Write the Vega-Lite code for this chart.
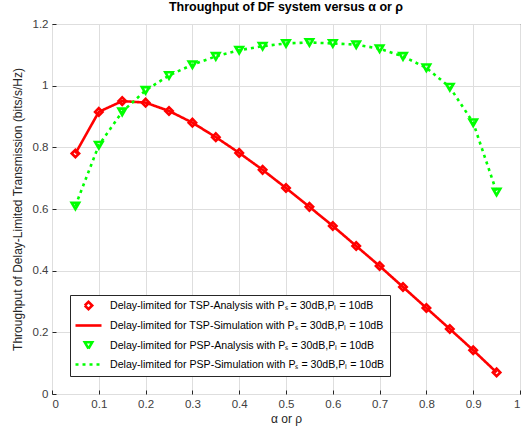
{
  "$schema": "https://vega.github.io/schema/vega-lite/v6.json",
  "autosize": {"type": "none"},
  "padding": {"left": 52, "top": 24, "right": 11, "bottom": 42},
  "width": 468,
  "height": 370,
  "background": "white",
  "config": {
    "font": "Liberation Sans",
    "view": {"stroke": "#262626", "strokeWidth": 1},
    "axis": {"labelFont": "Liberation Sans", "titleFont": "Liberation Sans", "labelFontSize": 11.5, "titleFontSize": 12, "labelColor": "#404040", "titleColor": "#262626", "titleFontWeight": "normal", "gridColor": "#dedede", "domainColor": "#262626", "tickColor": "#262626"}
  },
  "title": {"text": "Throughput of DF system versus α or ρ", "fontSize": 12.5, "fontWeight": "bold", "font": "Liberation Sans", "color": "#000000", "offset": 5},
  "data": {"values": [
    {"x":0.05,"y":0.78,"ana":"TSP-Analysis","sim":"TSP-Simulation"},
    {"x":0.10,"y":0.915,"ana":"TSP-Analysis","sim":"TSP-Simulation"},
    {"x":0.15,"y":0.95,"ana":"TSP-Analysis","sim":"TSP-Simulation"},
    {"x":0.20,"y":0.945,"ana":"TSP-Analysis","sim":"TSP-Simulation"},
    {"x":0.25,"y":0.918,"ana":"TSP-Analysis","sim":"TSP-Simulation"},
    {"x":0.30,"y":0.88,"ana":"TSP-Analysis","sim":"TSP-Simulation"},
    {"x":0.35,"y":0.833,"ana":"TSP-Analysis","sim":"TSP-Simulation"},
    {"x":0.40,"y":0.782,"ana":"TSP-Analysis","sim":"TSP-Simulation"},
    {"x":0.45,"y":0.727,"ana":"TSP-Analysis","sim":"TSP-Simulation"},
    {"x":0.50,"y":0.668,"ana":"TSP-Analysis","sim":"TSP-Simulation"},
    {"x":0.55,"y":0.607,"ana":"TSP-Analysis","sim":"TSP-Simulation"},
    {"x":0.60,"y":0.545,"ana":"TSP-Analysis","sim":"TSP-Simulation"},
    {"x":0.65,"y":0.48,"ana":"TSP-Analysis","sim":"TSP-Simulation"},
    {"x":0.70,"y":0.415,"ana":"TSP-Analysis","sim":"TSP-Simulation"},
    {"x":0.75,"y":0.347,"ana":"TSP-Analysis","sim":"TSP-Simulation"},
    {"x":0.80,"y":0.279,"ana":"TSP-Analysis","sim":"TSP-Simulation"},
    {"x":0.85,"y":0.211,"ana":"TSP-Analysis","sim":"TSP-Simulation"},
    {"x":0.90,"y":0.142,"ana":"TSP-Analysis","sim":"TSP-Simulation"},
    {"x":0.95,"y":0.07,"ana":"TSP-Analysis","sim":"TSP-Simulation"},
    {"x":0.05,"y":0.61,"ana":"PSP-Analysis","sim":"PSP-Simulation"},
    {"x":0.10,"y":0.807,"ana":"PSP-Analysis","sim":"PSP-Simulation"},
    {"x":0.15,"y":0.915,"ana":"PSP-Analysis","sim":"PSP-Simulation"},
    {"x":0.20,"y":0.985,"ana":"PSP-Analysis","sim":"PSP-Simulation"},
    {"x":0.25,"y":1.033,"ana":"PSP-Analysis","sim":"PSP-Simulation"},
    {"x":0.30,"y":1.068,"ana":"PSP-Analysis","sim":"PSP-Simulation"},
    {"x":0.35,"y":1.095,"ana":"PSP-Analysis","sim":"PSP-Simulation"},
    {"x":0.40,"y":1.115,"ana":"PSP-Analysis","sim":"PSP-Simulation"},
    {"x":0.45,"y":1.128,"ana":"PSP-Analysis","sim":"PSP-Simulation"},
    {"x":0.50,"y":1.137,"ana":"PSP-Analysis","sim":"PSP-Simulation"},
    {"x":0.55,"y":1.14,"ana":"PSP-Analysis","sim":"PSP-Simulation"},
    {"x":0.60,"y":1.137,"ana":"PSP-Analysis","sim":"PSP-Simulation"},
    {"x":0.65,"y":1.133,"ana":"PSP-Analysis","sim":"PSP-Simulation"},
    {"x":0.70,"y":1.12,"ana":"PSP-Analysis","sim":"PSP-Simulation"},
    {"x":0.75,"y":1.095,"ana":"PSP-Analysis","sim":"PSP-Simulation"},
    {"x":0.80,"y":1.058,"ana":"PSP-Analysis","sim":"PSP-Simulation"},
    {"x":0.85,"y":0.995,"ana":"PSP-Analysis","sim":"PSP-Simulation"},
    {"x":0.90,"y":0.88,"ana":"PSP-Analysis","sim":"PSP-Simulation"},
    {"x":0.95,"y":0.655,"ana":"PSP-Analysis","sim":"PSP-Simulation"}
  ]},
  "encoding": {
    "x": {"field": "x", "type": "quantitative", "scale": {"domain": [0, 1], "nice": false}, "axis": {"title": "α or ρ", "values": [0,0.1,0.2,0.3,0.4,0.5,0.6,0.7,0.8,0.9,1], "format": "~g", "tickSize": -4, "labelPadding": 8, "titlePadding": 4, "domain": false}},
    "y": {"field": "y", "type": "quantitative", "scale": {"domain": [0, 1.2], "nice": false}, "axis": {"title": "Throughput of Delay-Limited Transmission (bits/s/Hz)", "values": [0,0.2,0.4,0.6,0.8,1,1.2], "format": "~g", "tickSize": -4, "labelPadding": 8, "titlePadding": 8, "domain": false}}
  },
  "layer": [
    {
      "mark": {"type": "line", "strokeWidth": 2.6, "strokeCap": "butt"},
      "encoding": {
        "color": {"field": "sim", "type": "nominal", "scale": {"domain": ["TSP-Analysis","TSP-Simulation","PSP-Analysis","PSP-Simulation"], "range": ["#ff0000","#ff0000","#00ff00","#00ff00"]},
          "legend": {"title": null, "orient": "none", "legendX": 18, "legendY": 271, "padding": 5, "strokeColor": "#262626", "fillColor": "white", "cornerRadius": 0, "labelFont": "Liberation Sans", "labelFontSize": 10.6, "labelColor": "#000000", "labelLimit": 0, "rowPadding": 5, "symbolSize": 676, "symbolOffset": 8, "labelOffset": 16, "symbolFillColor": "transparent",
            "labelExpr": "'Delay-limited for ' + datum.label + ' with Pₛ = 30dB,Pₗ = 10dB'",
            "encode": {"symbols": {"update": {
              "shape": {"signal": "(datum.value == 'TSP-Simulation' || datum.value == 'PSP-Simulation') ? 'stroke' : (datum.value == 'TSP-Analysis' ? 'diamond' : 'triangle-down')"},
              "size": {"signal": "(datum.value == 'TSP-Simulation' || datum.value == 'PSP-Simulation') ? 676 : 55"},
              "strokeDash": {"signal": "datum.value == 'PSP-Simulation' ? [3,4] : [100,0]"},
              "fill": {"value": "transparent"},
              "fillOpacity": {"value": 0},
              "strokeWidth": {"value": 2.6}
            }}}
          }},
        "strokeDash": {"field": "sim", "type": "nominal", "scale": {"domain": ["TSP-Simulation","PSP-Simulation"], "range": [[1,0],[3,4]]}, "legend": null}
      }
    },
    {
      "mark": {"type": "point", "filled": false, "strokeWidth": 2.6, "size": 55, "opacity": 1},
      "encoding": {
        "color": {"field": "ana", "type": "nominal"},
        "shape": {"field": "ana", "type": "nominal", "scale": {"domain": ["TSP-Analysis","PSP-Analysis"], "range": ["diamond","triangle-down"]}, "legend": null}
      }
    }
  ]
}
